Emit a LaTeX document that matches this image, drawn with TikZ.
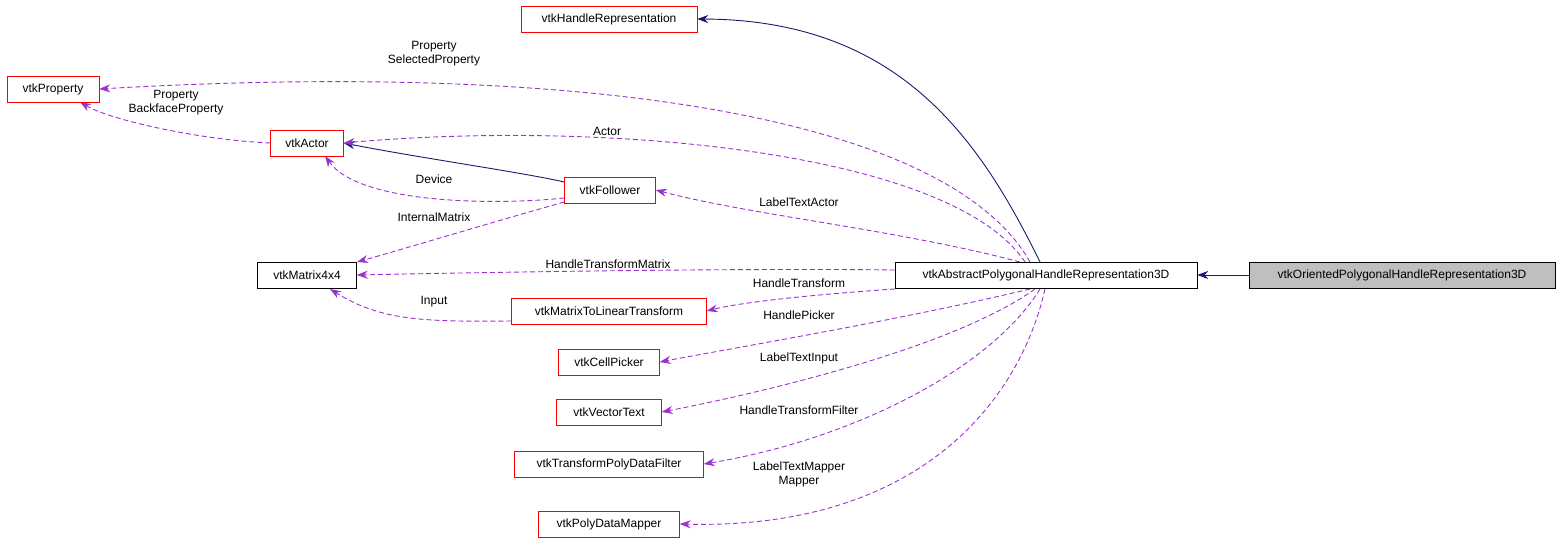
\documentclass[tikz,border=0pt]{standalone}
\usepackage{fontspec}
\setmainfont{Liberation Sans}
\usetikzlibrary{arrows.meta,backgrounds}
\begin{document}
\begin{tikzpicture}[x=1pt,y=-1pt,
  box/.style={draw=red,fill=white,minimum height=26pt,inner sep=0pt,font=\fontsize{12}{13}\selectfont},
  bbox/.style={box,draw=black},
  lbl/.style={font=\fontsize{12}{14}\selectfont,align=center,inner sep=0pt},
  use/.style={draw={rgb,255:red,154;green,50;blue,205},line width=0.9pt,dash pattern=on 5pt off 3pt,-{Stealth[length=11pt,width=8pt,fill={rgb,255:red,154;green,50;blue,205}]}},
  inh/.style={draw={rgb,255:red,25;green,25;blue,112},line width=0.9pt,-{Stealth[length=11pt,width=8pt,fill={rgb,255:red,25;green,25;blue,112}]}}]
\useasboundingbox (0,0) rectangle (1560,553);
\node[box,minimum width=176pt] (hr) at (609,19) {vtkHandleRepresentation};
\node[box,minimum width=92pt] (prop) at (53,89) {vtkProperty};
\node[box,minimum width=73pt] (act) at (307,143) {vtkActor};
\node[box,minimum width=91pt] (fol) at (610,190) {vtkFollower};
\node[bbox,minimum width=99pt] (mat) at (307,275) {vtkMatrix4x4};
\node[box,minimum width=195pt] (mlt) at (609,311) {vtkMatrixToLinearTransform};
\node[box,minimum width=101pt] (cp) at (609,362) {vtkCellPicker};
\node[box,minimum width=105pt] (vt) at (609,412) {vtkVectorText};
\node[box,minimum width=189pt] (tpf) at (609,464) {vtkTransformPolyDataFilter};
\node[box,minimum width=141pt] (pdm) at (609,524) {vtkPolyDataMapper};
\node[bbox,minimum width=302pt] (abs) at (1046,275) {vtkAbstractPolygonalHandleRepresentation3D};
\node[bbox,fill={rgb,255:red,191;green,191;blue,191},minimum width=306pt] (ori) at (1402,275) {vtkOrientedPolygonalHandleRepresentation3D};
\coordinate (a) at (1040,262);
\begin{scope}[on background layer]
% inheritance
\draw[inh] (ori.west) -- (abs.east);
\draw[inh] (a) .. controls (980,140) and (900,20) .. (hr.east);
\draw[inh] (fol.west) ++(0,-8) .. controls (520,172) and (420,158) .. (act.east);
% uses from abs
\draw[use] (1030,262) .. controls (950,120) and (600,60) .. (prop.east);
\draw[use] (1025,262) .. controls (950,150) and (600,120) .. (act.east);
\draw[use] (1020,262) .. controls (900,230) and (750,215) .. (fol.east);
\draw[use] (abs.west) ++(0,-5) .. controls (750,268) and (500,272) .. (mat.east);
\draw[use] (abs.west) ++(0,14) .. controls (850,292) and (750,300) .. (mlt.east);
\draw[use] (1030,289) .. controls (900,320) and (750,345) .. (cp.east);
\draw[use] (1035,289) .. controls (950,350) and (750,395) .. (vt.east);
\draw[use] (1040,289) .. controls (990,370) and (850,440) .. (tpf.east);
\draw[use] (1045,289) .. controls (1020,400) and (920,530) .. (pdm.east);
% others
\draw[use] (act.west) .. controls (200,140) and (110,120) .. (80,102);
\draw[use] (fol.west) ++(0,8) .. controls (500,205) and (360,205) .. (325,156);
\draw[use] (fol.west) ++(0,12) .. controls (500,220) and (400,250) .. (357,262);
\draw[use] (mlt.west) ++(0,10) .. controls (420,322) and (380,320) .. (330,289);
\end{scope}
% labels
\node[lbl] at (434,54) {Property\\SelectedProperty};
\node[lbl] at (176,103) {Property\\BackfaceProperty};
\node[lbl] at (607,131) {Actor};
\node[lbl] at (434,179) {Device};
\node[lbl] at (799,202) {LabelTextActor};
\node[lbl] at (434,217) {InternalMatrix};
\node[lbl] at (608,264) {HandleTransformMatrix};
\node[lbl] at (799,283) {HandleTransform};
\node[lbl] at (434,302) {Input};
\node[lbl] at (799,315) {HandlePicker};
\node[lbl] at (799,358) {LabelTextInput};
\node[lbl] at (799,410) {HandleTransformFilter};
\node[lbl] at (799,474) {LabelTextMapper\\Mapper};
\end{tikzpicture}
\end{document}
